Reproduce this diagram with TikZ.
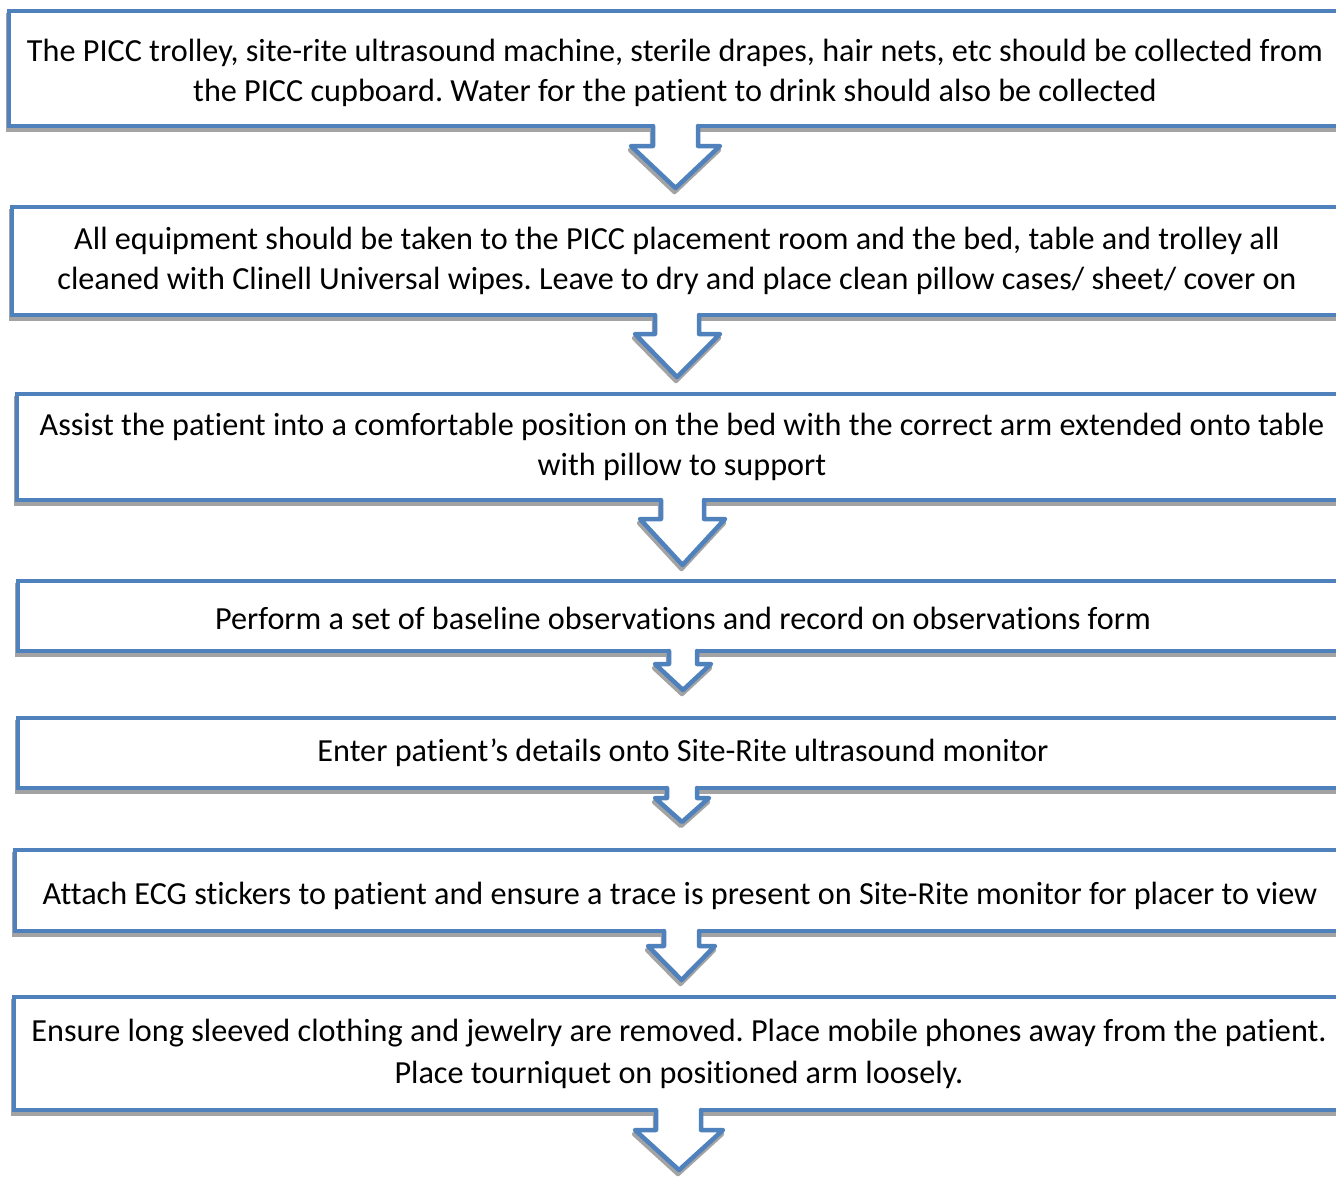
\documentclass[tikz,border=0pt]{standalone}
\usepackage{fontspec}
\setmainfont[Ligatures=NoCommon]{Carlito}
\definecolor{boxblue}{RGB}{79,129,189}
\definecolor{shgray}{RGB}{163,163,163}
\tikzset{
  stepbox/.style={rectangle, draw=boxblue, line width=4.5pt, fill=white,
    anchor=north west, inner sep=0pt, outer sep=0pt, minimum width=1330pt,
    align=center, text=black, font=\fontsize{32.2}{39.5}\selectfont\frenchspacing,
    preaction={draw=shgray, line width=4.5pt, transform canvas={shift={(-1pt,-4pt)}}}},
  arrowline/.style={draw=boxblue, line width=4.5pt, line join=round, line cap=round},
  arrowshadow/.style={draw=shgray, line width=4.5pt, line join=round, line cap=round,
    transform canvas={shift={(-1pt,-4pt)}}},
}
% lower the text of a box by #1 without changing its size
\newcommand\lowertext[2]{\raisebox{-#1}[\height][\depth]{\begin{tabular}{@{}c@{}}#2\end{tabular}}}
% #1 L, #2 R, #3 top, #4 head top, #5 head left, #6 head right, #7 tip y, #8 tip x
\newcommand\flowarrow[8]{%
  \draw[arrowshadow] (#1,#3) -- (#1,#4) -- (#5,#4) -- (#8,#7) -- (#6,#4) -- (#2,#4) -- (#2,#3);
  \fill[white] (#1,#3-7) -- (#1,#4) -- (#5,#4) -- (#8,#7) -- (#6,#4) -- (#2,#4) -- (#2,#3-7) -- cycle;
  \draw[arrowline] (#1,#3) -- (#1,#4) -- (#5,#4) -- (#8,#7) -- (#6,#4) -- (#2,#4) -- (#2,#3);
}
\begin{document}
\begin{tikzpicture}[x=1pt,y=-1pt]
\useasboundingbox (0,0) rectangle (1336,1178);
\clip (0,0) rectangle (1336,1178);
\fill[white] (0,0) rectangle (1336,1178);

\node[stepbox, minimum width=1332pt, minimum height=115pt] (b1) at (9,11)
  {\lowertext{5pt}{The PICC trolley, site-rite ultrasound machine, sterile drapes, hair nets, etc should be collected from\\the PICC cupboard. Water for the patient to drink should also be collected}};
\node[stepbox, minimum height=108pt] (b2) at (12,207)
  {All equipment should be taken to the PICC placement room and the bed, table and trolley all\\cleaned with Clinell Universal wipes. Leave to dry and place clean pillow cases/ sheet/ cover on};
\node[stepbox, minimum height=106pt] (b3) at (17,394)
  {Assist the patient into a comfortable position on the bed with the correct arm extended onto table\\with pillow to support};
\node[stepbox, minimum height=70pt] (b4) at (18,581)
  {\lowertext{6pt}{Perform a set of baseline observations and record on observations form}};
\node[stepbox, minimum height=70pt] (b5) at (18,718)
  {Enter patient’s details onto Site-Rite ultrasound monitor};
\node[stepbox, minimum height=81pt] (b6) at (15,850)
  {\lowertext{6pt}{Attach ECG stickers to patient and ensure a trace is present on Site-Rite monitor for placer to view}};
\node[stepbox, minimum height=113pt] (b7) at (14,997)
  {Ensure long sleeved clothing and jewelry are removed. Place mobile phones away from the patient.\\[2.5pt]Place tourniquet on positioned arm loosely.};

\flowarrow{653}{698}{126}{146}{631}{720}{188}{675.5}
\flowarrow{655}{699}{315}{334}{635}{720}{377}{677}
\flowarrow{661}{704}{500}{519}{640}{725}{565}{682.5}
\flowarrow{669}{697}{651}{664}{655}{711}{690}{683}
\flowarrow{667}{697}{788}{798}{655}{709}{822}{682}
\flowarrow{664}{699}{931}{946}{648}{715}{980}{681.5}
\flowarrow{656}{701}{1110}{1130}{635}{723}{1170}{679}
\end{tikzpicture}
\end{document}
